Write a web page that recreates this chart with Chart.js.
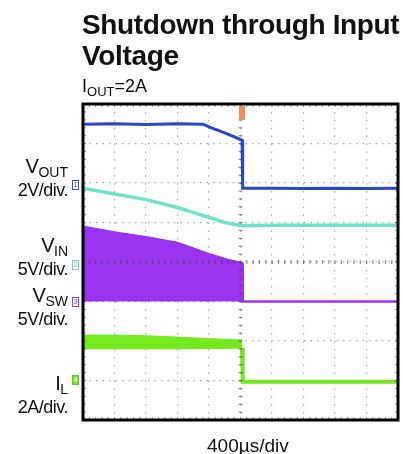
<!DOCTYPE html>
<html>
<head>
<meta charset="utf-8">
<script src="https://cdn.jsdelivr.net/npm/chart.js@4/dist/chart.umd.min.js"></script>
<style>
  body { margin: 0; background: #fff; font-family: "Liberation Sans", Arial, sans-serif; }
  #wrap { position: relative; width: 403px; height: 454px; overflow: hidden; }
  #scope { position: absolute; left: 0; top: 0; }
  .txt { position: absolute; color: #111; white-space: nowrap; }
  .title { left: 82px; font-weight: bold; font-size: 28px; letter-spacing: -0.35px; }
  .lbl { right: 335px; text-align: right; font-size: 18px; letter-spacing: -0.5px; line-height: 18px; }
  .lbl sub { font-size: 14px; vertical-align: -4px; letter-spacing: 0; }
  .big { font-size: 20px; }
  .mk { position: absolute; left: 72px; width: 5px; height: 8px; border: 1px solid; font-size: 7px; line-height: 8px; text-align: center; }
</style>
</head>
<body>
<div id="wrap">
  <canvas id="scope" width="403" height="454"></canvas>

  <div class="txt title" style="top:9px;">Shutdown through Input</div>
  <div class="txt title" style="top:40px;">Voltage</div>
  <div class="txt" style="left:82px; top:76px; font-size:18px;">I<sub style="font-size:13px; vertical-align:-4px;">OUT</sub>=2A</div>

  <div class="txt lbl" style="top:157px;"><span class="big">V</span><sub>OUT</sub><br>2V/div.</div>
  <div class="txt lbl" style="top:236px;"><span class="big">V</span><sub>IN</sub><br>5V/div.</div>
  <div class="txt lbl" style="top:286px;"><span class="big">V</span><sub>SW</sub><br>5V/div.</div>
  <div class="txt lbl" style="top:374px;"><span class="big">I</span><sub>L</sub><br>2A/div.</div>

  <div class="mk" style="top:180px; border-color:#3a4fd0; color:#3a4fd0;">1</div>
  <div class="mk" style="top:260px; border-color:#6fd9bd; color:#6fd9bd;">2</div>
  <div class="mk" style="top:297px; border-color:#9a3af0; color:#9a3af0;">3</div>
  <div class="mk" style="top:375px; border-color:#62c61c; background:#7ee33a; color:#fff;">4</div>
  <div style="position:absolute; left:239px; top:106px; width:6px; height:14px; background:#f09060;"></div>

  <div class="txt" style="left:207px; top:435px; font-size:19px;">400µs/div</div>
</div>

<script>
// time axis in divisions (400us/div), values in screen divisions
const vOutT = [0, 1, 2, 3, 3.8, 4.1, 4.5, 4.83, 5.05, 5.07, 6, 7, 8, 9, 10];
const vOutV = [7.49, 7.5, 7.48, 7.5, 7.49, 7.39, 7.27, 7.16, 7.08, 5.87, 5.87, 5.86, 5.87, 5.86, 5.87];

const vInT = [0, 1, 2, 3, 4, 4.5, 5.05, 6, 7, 8, 9, 10];
const vInV = [5.87, 5.72, 5.58, 5.38, 5.13, 5.0, 4.92, 4.93, 4.93, 4.93, 4.93, 4.93];

const vSwT = [0, 1, 2, 3, 4, 4.6, 5.05, 5.07, 6, 7, 8, 9, 10];
const vSwV = [4.89, 4.75, 4.63, 4.48, 4.2, 4.05, 3.97, 3.0, 3.0, 3.0, 3.0, 3.0, 3.0];
const vSwBase = 3.0;

const iLBandT = [0, 1, 2, 3, 4, 5.05];
const iLTop = [2.15, 2.15, 2.13, 2.1, 2.06, 2.03];
const iLBottom = [1.8, 1.8, 1.8, 1.8, 1.81, 1.82];
const iLAfterT = [5.05, 5.07, 6, 7, 8, 9, 10];
const iLAfterV = [1.82, 0.97, 0.97, 0.97, 0.97, 0.97, 0.97];

const xDivs = 10;
const yDivs = 8;

function pts(t, v) {
    return t.map((x, i) => ({ x: x, y: v[i] }));
}

// oscilloscope frame + minor ticks on centre lines
const scopeGrid = {
    id: 'scopeGrid',
    afterDraw(chart) {
        const { ctx, chartArea: a, scales } = chart;
        const xs = scales.x, ys = scales.y;
        ctx.save();
        ctx.fillStyle = 'rgba(60,60,60,0.55)';
        const cx = xs.getPixelForValue(xDivs / 2);
        const cy = ys.getPixelForValue(yDivs / 2);
        for (let v = 0; v <= xDivs; v += 0.2) {
            const px = xs.getPixelForValue(v);
            ctx.fillRect(px - 0.5, cy - 2, 1.2, 4);
            ctx.fillRect(px - 0.5, a.top, 1, 3);
            ctx.fillRect(px - 0.5, a.bottom - 3, 1, 3);
        }
        for (let v = 0; v <= yDivs; v += 0.2) {
            const py = ys.getPixelForValue(v);
            ctx.fillRect(cx - 2, py - 0.5, 4, 1.2);
            ctx.fillRect(a.left, py - 0.5, 3, 1);
            ctx.fillRect(a.right - 3, py - 0.5, 3, 1);
        }
        ctx.strokeStyle = '#000';
        ctx.lineWidth = 3;
        ctx.strokeRect(a.left, a.top, a.right - a.left, a.bottom - a.top);
        ctx.restore();
    }
};

const ctx = document.getElementById('scope').getContext('2d');
new Chart(ctx, {
    type: 'line',
    data: {
        datasets: [
            { label: 'IL top', data: pts(iLBandT, iLTop), borderColor: '#74ea1e', backgroundColor: '#74ea1e', borderWidth: 1, fill: '+1' },
            { label: 'IL bottom', data: pts(iLBandT, iLBottom), borderColor: '#74ea1e', borderWidth: 1, fill: false },
            { label: 'IL', data: pts(iLAfterT, iLAfterV), borderColor: '#76e326', borderWidth: 4, fill: false },
            { label: 'VSW', data: pts(vSwT, vSwV), borderColor: '#9a34f0', backgroundColor: '#9a34f0', borderWidth: 2.5, fill: { value: vSwBase } },
            { label: 'VIN', data: pts(vInT, vInV), borderColor: '#72e3c8', borderWidth: 3.5, fill: false },
            { label: 'VOUT', data: pts(vOutT, vOutV), borderColor: '#2c45c8', borderWidth: 3, fill: false }
        ]
    },
    options: {
        responsive: false,
        animation: false,
        layout: { padding: { left: 83, right: 5, top: 104, bottom: 34 } },
        elements: { point: { radius: 0 }, line: { tension: 0 } },
        plugins: { legend: { display: false }, tooltip: { enabled: false } },
        scales: {
            x: {
                type: 'linear', min: 0, max: xDivs,
                ticks: { display: false, stepSize: 1 },
                grid: { color: 'rgba(70,70,70,0.45)', lineWidth: 1.2, drawTicks: false },
                border: { display: false, dash: [1.5, 6.4] }
            },
            y: {
                type: 'linear', min: 0, max: yDivs,
                ticks: { display: false, stepSize: 1 },
                grid: { color: 'rgba(70,70,70,0.45)', lineWidth: 1.2, drawTicks: false },
                border: { display: false, dash: [1.5, 5] }
            }
        }
    },
    plugins: [scopeGrid]
});
</script>
</body>
</html>
